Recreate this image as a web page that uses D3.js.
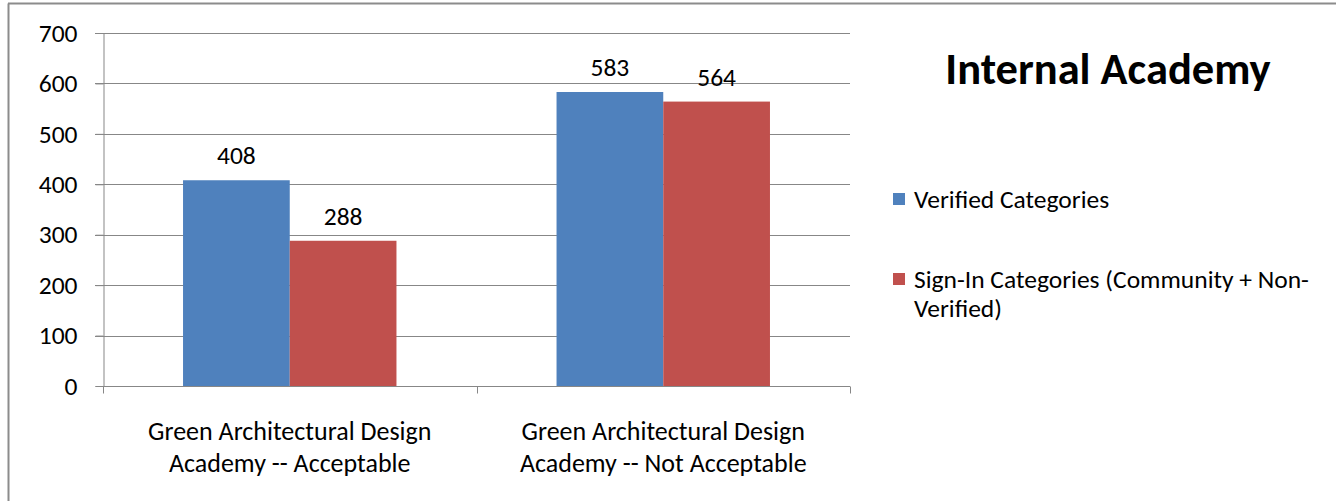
<!DOCTYPE html>
<html><head><meta charset="utf-8">
<script src="https://cdn.jsdelivr.net/npm/d3@7"></script>
<style>
html,body{margin:0;padding:0;background:#fff;}
svg text{font-family:Carlito,Lato,"Open Sans",sans-serif;fill:#000;}
</style></head>
<body><svg id="chart" width="1336" height="501"></svg>
<script>
const categories = ["Green Architectural Design|Academy -- Acceptable", "Green Architectural Design|Academy -- Not Acceptable"];
const seriesNames = ["Verified Categories", "Sign-In Categories (Community + Non-|Verified)"];
const verified = [408, 583];
const signIn = [288, 564];
const yTicks = [0, 100, 200, 300, 400, 500, 600, 700];
const colors = ["#4F81BD", "#C0504D"];
const title = "Internal Academy";

const series = [verified, signIn];
const svg = d3.select("#chart");
const L = 103, R = 850, T = 33, B = 386;
const FS = 25.5;

// outer border
svg.append("line").attr("x1", 8.5).attr("x2", 8.5).attr("y1", 3.5).attr("y2", 501).attr("stroke", "#8c8c8c").attr("stroke-width", 2);
svg.append("line").attr("x1", 8).attr("x2", 1336).attr("y1", 3.5).attr("y2", 3.5).attr("stroke", "#8c8c8c").attr("stroke-width", 2);

const x0 = d3.scaleBand().domain(d3.range(categories.length)).range([L, R]).paddingInner(0).paddingOuter(0);
const y = d3.scaleLinear().domain([0, 700]).range([B, T]);
const bandW = x0.bandwidth();
const gap = bandW * 0.75 / 3.5;
const x1 = d3.scaleBand().domain(d3.range(series.length)).range([gap, bandW - gap]);

// gridlines
svg.append("g").selectAll("line").data(yTicks.filter(d => d > 0)).join("line")
  .attr("x1", L - 8).attr("x2", R).attr("y1", d => Math.round(y(d)) + 0.5).attr("y2", d => Math.round(y(d)) + 0.5)
  .attr("stroke", "#878787").attr("stroke-width", 1);

// y axis
const yAxis = svg.append("g").attr("transform", `translate(${L + 0.5},0)`)
  .call(d3.axisLeft(y).tickValues(yTicks).tickSize(8).tickPadding(18));
yAxis.attr("font-family", null).attr("font-size", null);
yAxis.select(".domain").attr("stroke", "#878787");
yAxis.selectAll(".tick line").attr("stroke", "#878787");
yAxis.selectAll(".tick text").attr("font-size", FS).attr("fill", "#000");

// bars
const groups = svg.append("g").selectAll("g").data(categories).join("g")
  .attr("transform", (d, i) => `translate(${x0(i)},0)`);
groups.selectAll("rect").data((d, i) => series.map((s, j) => ({ v: s[i], j }))).join("rect")
  .attr("x", d => x1(d.j)).attr("width", x1.bandwidth())
  .attr("y", d => y(d.v)).attr("height", d => y(0) - y(d.v))
  .attr("fill", d => colors[d.j]);
groups.selectAll("text.val").data((d, i) => series.map((s, j) => ({ v: s[i], j }))).join("text")
  .attr("class", "val")
  .attr("x", d => x1(d.j) + x1.bandwidth() / 2).attr("y", d => y(d.v) - 16)
  .attr("text-anchor", "middle").attr("font-size", FS).text(d => d.v);

// x axis
const xAxis = svg.append("g").attr("transform", `translate(0,${B + 0.5})`);
xAxis.append("line").attr("x1", L).attr("x2", R).attr("stroke", "#878787");
xAxis.selectAll("line.tk").data(d3.range(categories.length + 1)).join("line").attr("class", "tk")
  .attr("x1", i => Math.round(L + i * bandW) + 0.5).attr("x2", i => Math.round(L + i * bandW) + 0.5)
  .attr("y1", 0).attr("y2", 7).attr("stroke", "#878787");
xAxis.selectAll("text").data(categories).join("text")
  .attr("text-anchor", "middle").attr("font-size", 26)
  .attr("transform", (d, i) => `translate(${x0(i) + bandW / 2},0)`)
  .selectAll("tspan").data(d => d.split("|")).join("tspan")
  .attr("x", 0).attr("y", (d, k) => 53 + k * 32).text(d => d);

// title
svg.append("text").attr("x", 1108).attr("y", 84).attr("text-anchor", "middle")
  .attr("font-size", 44.5).attr("font-weight", "bold").text(title);

// legend
const leg = svg.append("g").selectAll("g").data(seriesNames).join("g")
  .attr("transform", (d, i) => `translate(893,${193 + i * 80})`);
leg.append("rect").attr("width", 12).attr("height", 12).attr("fill", (d, i) => colors[i]);
leg.append("text").attr("font-size", FS)
  .selectAll("tspan").data(d => d.split("|")).join("tspan")
  .attr("x", 21).attr("y", (d, k) => 15 + k * 29).text(d => d);
</script></body></html>
